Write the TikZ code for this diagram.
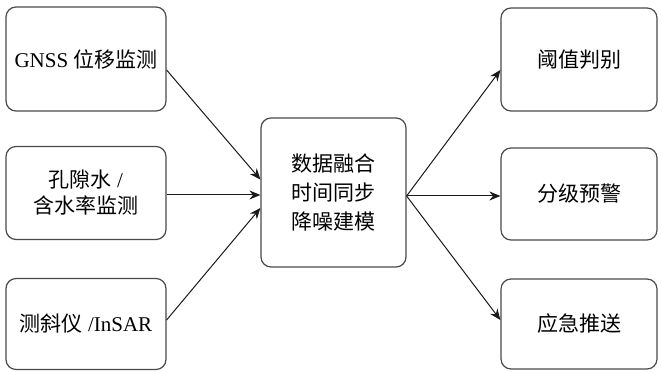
\documentclass[tikz,border=0pt]{standalone}
\usepackage{fontspec}
\setmainfont{Liberation Serif}
\newfontfamily\cjk{Noto Sans CJK SC}
\usetikzlibrary{positioning,arrows.meta,calc}
\definecolor{boxline}{HTML}{4A4A4A}
\definecolor{arrowline}{HTML}{1A1A1A}

\begin{document}
\begin{tikzpicture}[x=0.5pt,y=-0.5pt,
  box/.style={draw=boxline, line width=0.6pt, rounded corners=5pt, fill=white, align=center, font=\fontsize{10.5}{13}\selectfont},
  flow/.style={draw=arrowline, line width=0.5pt, -{Stealth[length=5.5pt,width=4.5pt]}}]
\useasboundingbox (0,0) rectangle (662,373);
% inputs
\node[box, minimum width=80pt, minimum height=52pt] (gnss) at (86,59) {GNSS {\cjk 位移监测}};
\node[box, minimum width=80pt, minimum height=46.5pt] (kong) at (86,193) {{\cjk 孔隙水} /\\{\cjk 含水率监测}};
\node[box, minimum width=80pt, minimum height=45.5pt] (cexie) at (86,324) {{\cjk 测斜仪} /InSAR};
% fusion
\node[box, minimum width=72.5pt, minimum height=74.5pt, font=\fontsize{10.5}{14.5}\selectfont] (ronghe) at (333.5,192.5) {\cjk 数据融合\\\cjk 时间同步\\\cjk 降噪建模};
% outputs
\node[box, minimum width=78pt, minimum height=51.5pt] (yuzhi) at (579,59.5) {\cjk 阈值判别};
\node[box, minimum width=78pt, minimum height=46pt] (fenji) at (579,194) {\cjk 分级预警};
\node[box, minimum width=78pt, minimum height=45pt] (yingji) at (579,324) {\cjk 应急推送};
\coordinate (hub) at ($(ronghe.east)+(0,3.5)$);
\draw[flow] ($(gnss.east)+(0,11)$) -- ($(ronghe.west)+(0,-13)$);
\draw[flow] ($(kong.east)+(0,2)$) -- ($(ronghe.west)+(0,2.5)$);
\draw[flow] ($(cexie.east)+(0,-4)$) -- ($(ronghe.west)+(0,15.5)$);
\draw[flow] (hub) -- ($(yuzhi.west)+(0,10.5)$);
\draw[flow] (hub) -- (hub -| fenji.west);
\draw[flow] (hub) -- ($(yingji.west)+(0,-4)$);
\end{tikzpicture}
\end{document}
